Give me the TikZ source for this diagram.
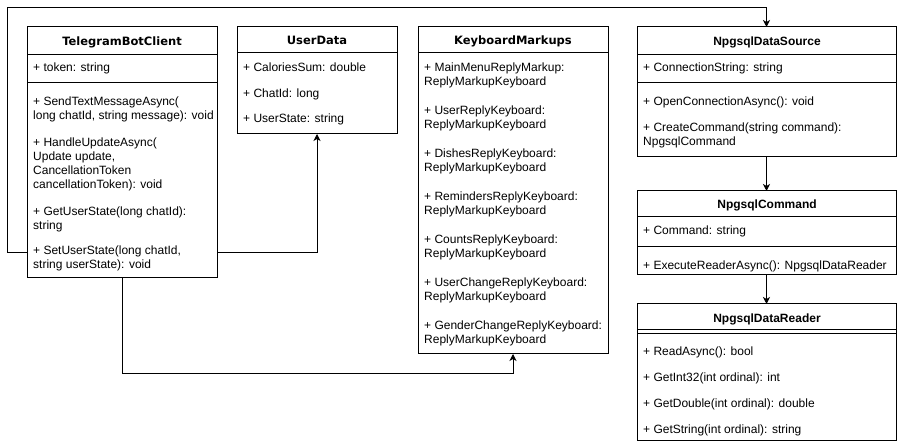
\documentclass[tikz,border=0pt]{standalone}
\usepackage{fontspec}
\setmainfont{Liberation Sans}
\newfontfamily\widefont{DejaVu Sans}
\usetikzlibrary{arrows.meta,calc}
\begin{document}
\begin{tikzpicture}[x=1pt,y=-1pt,
  box/.style={draw, line width=1pt, anchor=north west, inner sep=0pt, outer sep=0pt},
  sepl/.style={line width=1pt},
  mem/.style={anchor=base west, inner sep=0pt, font=\fontsize{12}{14}\selectfont},
  ttlw/.style={anchor=base, inner sep=0pt, font=\widefont\bfseries\fontsize{11.5}{14}\selectfont},
  ttl/.style={anchor=base, inner sep=0pt, font=\bfseries\fontsize{12}{14}\selectfont},
  arr/.style={line width=1pt, -{Stealth[length=7pt,width=7pt,inset=2pt]}}]
\useasboundingbox (0,0) rectangle (898,446);
\fill[white] (0,0) rectangle (898,446);

% boxes
\node[box, minimum width=190pt, minimum height=251pt] (tbc) at (27,27) {};
\node[box, minimum width=160pt, minimum height=107pt] (ud) at (237,27) {};
\node[box, minimum width=190pt, minimum height=327pt] (km) at (418,27) {};
\node[box, minimum width=259pt, minimum height=130pt] (dsrc) at (637,27) {};
\node[box, minimum width=259pt, minimum height=84pt] (cmd) at (637,191) {};
\node[box, minimum width=259pt, minimum height=137pt] (rdr) at (637,304) {};

% separators
\draw[sepl] ($(tbc.north west)+(0,28)$) -- ($(tbc.north east)+(0,28)$);
\draw[sepl] ($(tbc.north west)+(0,56)$) -- ($(tbc.north east)+(0,56)$);
\draw[sepl] ($(ud.north west)+(0,26)$) -- ($(ud.north east)+(0,26)$);
\draw[sepl] ($(km.north west)+(0,26)$) -- ($(km.north east)+(0,26)$);
\draw[sepl] ($(dsrc.north west)+(0,28)$) -- ($(dsrc.north east)+(0,28)$);
\draw[sepl] ($(dsrc.north west)+(0,56)$) -- ($(dsrc.north east)+(0,56)$);
\draw[sepl] ($(cmd.north west)+(0,26)$) -- ($(cmd.north east)+(0,26)$);
\draw[sepl] ($(cmd.north west)+(0,56)$) -- ($(cmd.north east)+(0,56)$);
\draw[sepl] ($(rdr.north west)+(0,26)$) -- ($(rdr.north east)+(0,26)$);
\draw[sepl] ($(rdr.north west)+(0,30)$) -- ($(rdr.north east)+(0,30)$);

% titles
\node[ttlw] (tbc-t) at (122,45.5) {TelegramBotClient};
\node[ttlw] (ud-t) at (317,44.5) {UserData};
\node[ttlw] (km-t) at (513,44.5) {KeyboardMarkups};
\node[ttl] (dsrc-t) at (767,45.5) {NpgsqlDataSource};
\node[ttl] (cmd-t) at (767,208.5) {NpgsqlCommand};
\node[ttl] (rdr-t) at (767,322.5) {NpgsqlDataReader};

% TelegramBotClient members
\node[mem] (tbc-m1) at (33,71.5) {+ token: string};
\node[mem] (tbc-m2) at (33,105.5) {+ SendTextMessageAsync(};
\node[mem] (tbc-m3) at (33,119.5) {long chatId, string message): void};
\node[mem] (tbc-m4) at (33,146.5) {+ HandleUpdateAsync(};
\node[mem] (tbc-m5) at (33,160.5) {Update update,};
\node[mem] (tbc-m6) at (33,174.5) {CancellationToken};
\node[mem] (tbc-m7) at (33,188.5) {cancellationToken): void};
\node[mem] (tbc-m8) at (33,215.5) {+ GetUserState(long chatId):};
\node[mem] (tbc-m9) at (33,229.5) {string};
\node[mem] (tbc-m10) at (33,254.5) {+ SetUserState(long chatId,};
\node[mem] (tbc-m11) at (33,268.5) {string userState): void};

% UserData members
\node[mem] (ud-m1) at (243,71.5) {+ CaloriesSum: double};
\node[mem] (ud-m2) at (243,97.5) {+ ChatId: long};
\node[mem] (ud-m3) at (243,123) {+ UserState: string};

% KeyboardMarkups members
\node[mem] (km-m1) at (424,71.5) {+ MainMenuReplyMarkup:};
\node[mem] (km-m1b) at (424,85.5) {ReplyMarkupKeyboard};
\node[mem] (km-m2) at (424,114.5) {+ UserReplyKeyboard:};
\node[mem] (km-m2b) at (424,128.5) {ReplyMarkupKeyboard};
\node[mem] (km-m3) at (424,157.5) {+ DishesReplyKeyboard:};
\node[mem] (km-m3b) at (424,171.5) {ReplyMarkupKeyboard};
\node[mem] (km-m4) at (424,200.5) {+ RemindersReplyKeyboard:};
\node[mem] (km-m4b) at (424,214.5) {ReplyMarkupKeyboard};
\node[mem] (km-m5) at (424,243.5) {+ CountsReplyKeyboard:};
\node[mem] (km-m5b) at (424,257.5) {ReplyMarkupKeyboard};
\node[mem] (km-m6) at (424,286.5) {+ UserChangeReplyKeyboard:};
\node[mem] (km-m6b) at (424,300.5) {ReplyMarkupKeyboard};
\node[mem] (km-m7) at (424,329.5) {+ GenderChangeReplyKeyboard:};
\node[mem] (km-m7b) at (424,343.5) {ReplyMarkupKeyboard};

% NpgsqlDataSource members
\node[mem] (dsrc-m1) at (643,71.5) {+ ConnectionString: string};
\node[mem] (dsrc-m2) at (643,105.5) {+ OpenConnectionAsync(): void};
\node[mem] (dsrc-m3) at (643,131.5) {+ CreateCommand(string command):};
\node[mem] (dsrc-m3b) at (643,145.5) {NpgsqlCommand};

% NpgsqlCommand members
\node[mem] (cmd-m1) at (643,235) {+ Command: string};
\node[mem] (cmd-m2) at (643,270) {+ ExecuteReaderAsync(): NpgsqlDataReader};

% NpgsqlDataReader members
\node[mem] (rdr-m1) at (643,355.5) {+ ReadAsync(): bool};
\node[mem] (rdr-m2) at (643,381.5) {+ GetInt32(int ordinal): int};
\node[mem] (rdr-m3) at (643,407.5) {+ GetDouble(int ordinal): double};
\node[mem] (rdr-m4) at (643,433.5) {+ GetString(int ordinal): string};

% connectors
\coordinate (tp) at (7,8);
\coordinate (ylo) at (0,253);
\coordinate (bt) at (0,374);
\draw[arr] (tbc.west |- ylo) -| (tp) -- (dsrc.north |- tp) -- (dsrc.north);
\draw[arr] (tbc.east |- ylo) -| (ud.south);
\draw[arr] (tbc.south) -- (tbc.south |- bt) -- (km.south |- bt) -- (km.south);
\draw[arr] (dsrc.south) -- (cmd.north);
\draw[arr] (cmd.south) -- (rdr.north);
\end{tikzpicture}
\end{document}
